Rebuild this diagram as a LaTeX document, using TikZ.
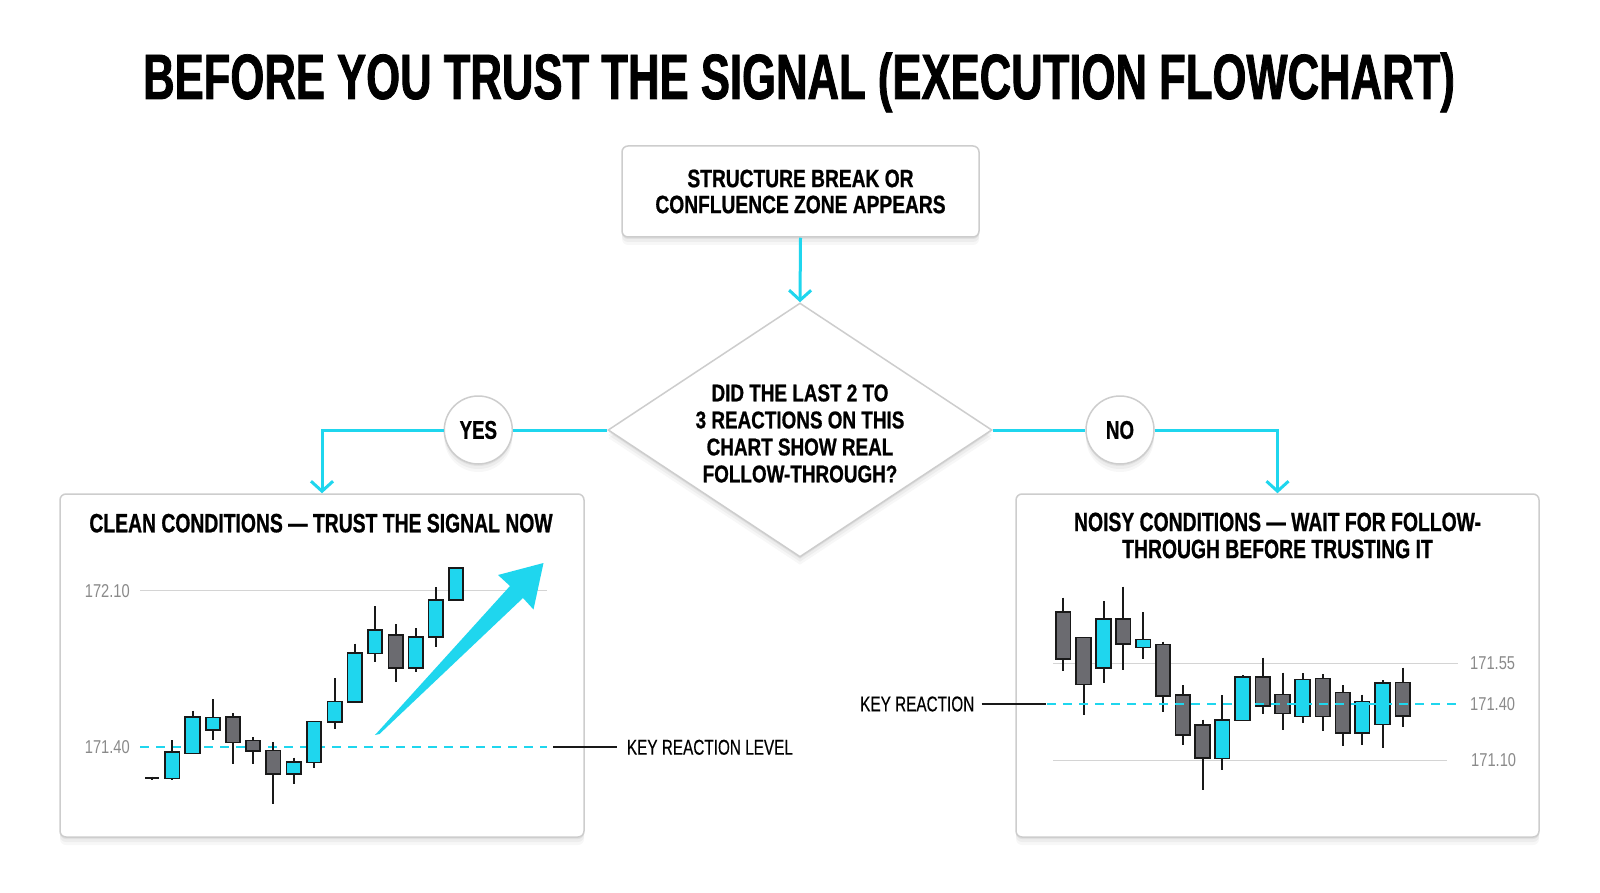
\documentclass[tikz,border=0pt]{standalone}
\usepackage{fontspec}
\setmainfont{Liberation Sans}
\newfontfamily\fTitle[FakeStretch=0.682,FakeBold=1.2]{Liberation Sans}
\newfontfamily\fBoxTxt[FakeStretch=0.765,FakeBold=0.8]{Liberation Sans}
\newfontfamily\fDiaTxt[FakeStretch=0.78,FakeBold=0.8]{Liberation Sans}
\newfontfamily\fHead[FakeStretch=0.73,FakeBold=0.8]{Liberation Sans}
\newfontfamily\fLbl[FakeStretch=0.716,FakeBold=0.3]{Liberation Sans}
\newfontfamily\fNum[FakeStretch=0.79]{Liberation Sans}
\usetikzlibrary{shapes.geometric,arrows.meta,shadows}
\definecolor{cy}{HTML}{1FD6EE}
\definecolor{cgray}{HTML}{6B6B70}
\definecolor{bord}{HTML}{CDCDCD}
\definecolor{gridc}{HTML}{D4D4D4}
\definecolor{lblc}{HTML}{8A8A8A}
\begin{document}
\begin{tikzpicture}[x=1pt,y=-1pt,
  softshadow/.style={
    drop shadow={shadow xshift=0pt,shadow yshift=-2pt,opacity=0.05,fill=black},
    drop shadow={shadow xshift=0pt,shadow yshift=-5pt,opacity=0.04,fill=black},
    drop shadow={shadow xshift=0pt,shadow yshift=-8pt,opacity=0.03,fill=black}},
  card/.style={draw=bord,line width=1.5pt,fill=white,rounded corners=6pt,softshadow,inner sep=0pt},
  dia/.style={shape=diamond,draw=bord,line width=1.5pt,fill=white,minimum width=384pt,
    minimum height=254pt,aspect=1.52,inner sep=0pt,softshadow},
  diatxt/.style={inner sep=0pt,align=center,font=\fDiaTxt\bfseries\fontsize{24.2}{27}\selectfont},
  badge/.style={circle,draw=bord,line width=1.5pt,fill=white,minimum size=68pt,inner sep=0pt,
    softshadow,font=\fHead\bfseries\fontsize{25.6}{28}\selectfont},
  flow/.style={draw=cy,line width=3pt},
  flowarrow/.style={flow,-{Straight Barb[length=10pt,width=22pt]}},
  headtxt/.style={font=\fHead\bfseries\fontsize{26.5}{27}\selectfont,inner sep=0pt,align=center},
  keytxt/.style={font=\fLbl\fontsize{21.4}{24}\selectfont,inner sep=0pt},
  numtxt/.style={font=\fNum\fontsize{18.6}{20}\selectfont,text=lblc,inner sep=0pt},
  gridline/.style={draw=gridc,line width=1.2pt},
  keylevel/.style={draw=cy,line width=2pt,dash pattern=on 9pt off 7pt},
  leader/.style={draw=black!90,line width=2pt},
  wick/.style={draw=black!90,line width=2pt},
  candle/.style={draw=black!90,line width=1.6pt}
]
\useasboundingbox[fill=white] (0,0) rectangle (1600,893);

% title
\node[font=\fTitle\bfseries\fontsize{64}{70}\selectfont,anchor=base,inner sep=0pt] (title) at (799,99)
  {BEFORE YOU TRUST THE SIGNAL (EXECUTION FLOWCHART)};

% top box
\node[card,minimum width=357pt,minimum height=91pt,align=center,
  font=\fBoxTxt\bfseries\fontsize{25.1}{26}\selectfont] (tb) at (800.5,191.5)
  {STRUCTURE BREAK OR\\CONFLUENCE ZONE APPEARS};

% decision
\node[dia] (dec) at (800,430) {};
\node[diatxt] (dect) at (800,433.5) {DID THE LAST 2 TO\\3 REACTIONS ON THIS\\CHART SHOW REAL\\FOLLOW-THROUGH?};

% result boxes
\node[card,minimum width=524pt,minimum height=343pt] (lb) at (322,665.5) {};
\node[card,minimum width=523pt,minimum height=343pt] (rb) at (1277.5,665.5) {};

% badges
\node[badge] (yes) at (478.3,430) {YES};
\node[badge] (no) at (1120,430) {NO};

% connectors
\draw[flowarrow] (tb.south) -- (dec.north);
\draw[flow] (dec.west) -- (yes.east);
\draw[flowarrow] (yes.west) -| (lb.north);
\draw[flow] (dec.east) -- (no.west);
\draw[flowarrow] (no.east) -| (rb.north);

% box titles
\node[headtxt,anchor=base] (lbt) at (321,532.3) {CLEAN CONDITIONS — TRUST THE SIGNAL NOW};
\node[headtxt] (rbt) at (1277.5,535.5) {NOISY CONDITIONS — WAIT FOR FOLLOW-\\THROUGH BEFORE TRUSTING IT};

% ---------- left chart ----------
\draw[gridline] (140,590.5) -- (547,590.5);
\draw[keylevel] (140,747.3) -- (547,747.3);
\node[numtxt,anchor=east] (l1) at (130,590.7) {172.10};
\node[numtxt,anchor=east] (l2) at (130,747.3) {171.40};
% doji
\draw[wick] (152,776.5) -- (152,780);
\draw[candle,line width=2pt] (145,777.7) -- (159,777.7);
\foreach \x/\bt/\bb/\wt/\wb/\c in {
  172.3/752/778.3/740/780/cy,
  192.5/717/753.3/710.7/753.3/cy,
  213/717.3/730/699.3/740/cy,
  233/717/742.3/713.3/764.3/cgray,
  253/740.3/751/737.3/764.3/cgray,
  273.3/750.3/773.7/742.3/804/cgray,
  293.8/762/773.7/757.7/784.3/cy,
  314/721.3/762.3/721.3/767.7/cy,
  334.7/701.3/722/678.3/729.3/cy,
  354.8/653/701.7/643.7/701.7/cy,
  375/629.7/653.3/606/662/cy,
  395.7/635/667.7/624/682.3/cgray,
  415.7/636.7/668/628/672.3/cy,
  435.7/600/636.7/587.3/647/cy,
  456/567.7/600/567.7/600/cy}{
  \draw[wick] (\x,\wt) -- (\x,\wb);
  \filldraw[candle,fill=\c] (\x-7.25,\bt) rectangle (\x+7.25,\bb);
}
% trend arrow
\fill[cy] (375,735) -- (510,586) -- (498,575) -- (543.5,563) -- (533.5,609.5) -- (523,598) -- (379.5,734) -- cycle;
% key level label
\coordinate (lkA) at (553.3,747.3);
\node[keytxt,anchor=west] (lkl) at (626.7,747.3) {KEY REACTION LEVEL};
\draw[leader,shorten >=9.4pt] (lkA) -- (lkl.west);

% ---------- right chart ----------
\draw[gridline] (1053,663.3) -- (1458,663.3);
\draw[gridline] (1053,760.3) -- (1447,760.3);
\node[numtxt,anchor=west] (r1) at (1470,663.3) {171.55};
\node[numtxt,anchor=west] (r2) at (1470,704) {171.40};
\node[numtxt,anchor=west] (r3) at (1471,760.3) {171.10};
\foreach \x/\bt/\bb/\wt/\wb/\c in {
  1063.3/611.7/658.7/597.7/671/cgray,
  1083.5/637.3/684.3/637.3/715.3/cgray,
  1103.5/618.7/667.7/601.3/683.3/cy,
  1123.2/618.7/644/586.7/670/cgray,
  1143.2/639.3/647.3/612.3/659.3/cy,
  1163/644.3/696/641.7/711.7/cgray,
  1182.7/695/735/685.3/745.3/cgray,
  1202.5/724.7/757.7/719.7/790/cgray,
  1222.3/719.7/758.3/695.3/770/cy,
  1242.5/677/720.3/675/720.3/cy,
  1262.7/677/705.7/657.7/714/cgray,
  1282.5/694.3/713.3/672.7/730.3/cgray,
  1302.5/679.3/716.3/673.3/723.3/cy,
  1322.7/678.3/716.3/674.3/731.3/cgray,
  1342.7/692.3/733/685/745.7/cgray,
  1362.2/701.3/733/694.7/745/cy,
  1382.5/682.7/724.3/680/748/cy,
  1402.7/682.3/716/667.7/727.3/cgray}{
  \draw[wick] (\x,\wt) -- (\x,\wb);
  \filldraw[candle,fill=\c] (\x-7.25,\bt) rectangle (\x+7.25,\bb);
}
\draw[keylevel] (1047,704) -- (1458,704);
\coordinate (rkB) at (1046,704);
\node[keytxt,anchor=east] (rkl) at (974.5,704) {KEY REACTION};
\draw[leader,shorten <=7pt] (rkl.east) -- (rkB);
\end{tikzpicture}
\end{document}
